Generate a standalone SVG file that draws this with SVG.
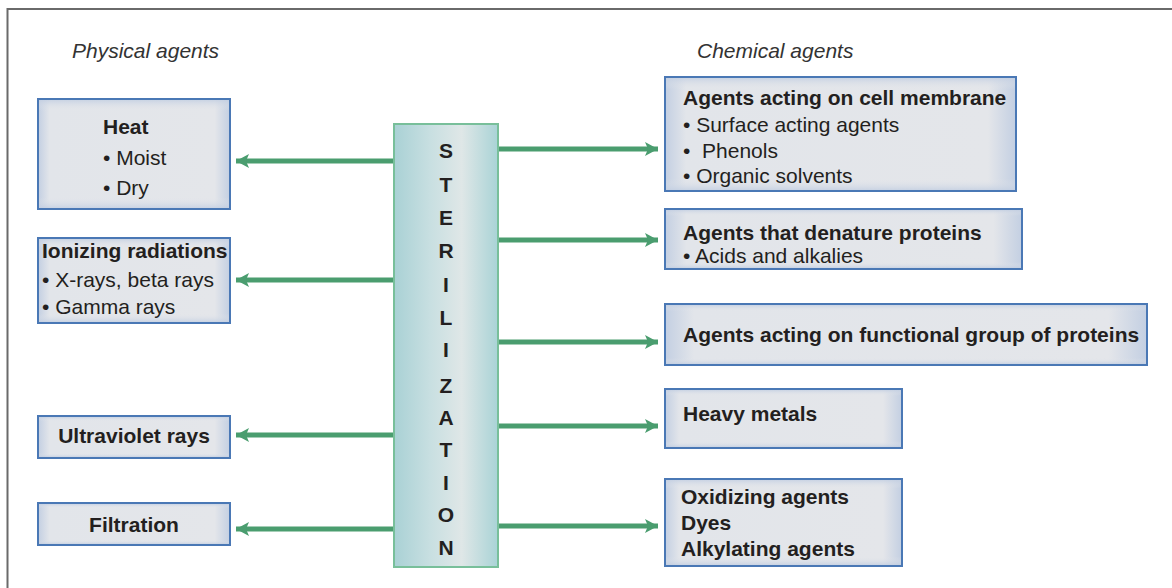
<svg xmlns="http://www.w3.org/2000/svg" width="1172" height="588" viewBox="0 0 1172 588">
<style>
.box{fill:url(#boxg);stroke:#4a78b5;stroke-width:2}
.glow{fill:url(#boxv)}
.b{font-family:"Liberation Sans",Arial,sans-serif;font-weight:bold;font-size:21px;fill:#231f20}
.r{font-family:"Liberation Sans",Arial,sans-serif;font-size:21px;fill:#231f20}
.it{font-family:"Liberation Sans",Arial,sans-serif;font-style:italic;font-size:21px;fill:#333}
.st{font-family:"Liberation Sans",Arial,sans-serif;font-weight:bold;font-size:21px;fill:#231f20;text-anchor:middle}
.c{stroke:#4a9d6f;stroke-width:5;fill:none;marker-end:url(#ah)}
</style>
<defs>
<linearGradient id="boxg" x1="0" y1="0" x2="1" y2="0">
<stop offset="0" stop-color="#c3cfe2"/>
<stop offset="0.06" stop-color="#e2e5ea"/>
<stop offset="0.92" stop-color="#e4e6ea"/>
<stop offset="1" stop-color="#c3cfe2"/>
</linearGradient>
<linearGradient id="boxv" x1="0" y1="0" x2="0" y2="1">
<stop offset="0" stop-color="#c3cfe2" stop-opacity="0.8"/>
<stop offset="0.1" stop-color="#e4e6ea" stop-opacity="0"/>
<stop offset="0.9" stop-color="#e4e6ea" stop-opacity="0"/>
<stop offset="1" stop-color="#c3cfe2" stop-opacity="0.8"/>
</linearGradient>
<linearGradient id="sg" x1="0" y1="0" x2="1" y2="0">
<stop offset="0" stop-color="#a9d1d5"/>
<stop offset="0.35" stop-color="#c8dfe1"/>
<stop offset="0.65" stop-color="#dfe7e7"/>
<stop offset="1" stop-color="#a9d3d6"/>
</linearGradient>
<marker id="ah" markerUnits="userSpaceOnUse" markerWidth="14" markerHeight="16" refX="13" refY="8" orient="auto">
<path d="M0,1 L13,8 L0,15 L3,8 Z" fill="#4a9d6f"/>
</marker>
</defs>
<rect x="0" y="0" width="1172" height="588" fill="#fff"/>
<path d="M7.5,588 V9 H1172" fill="none" stroke="#6a6a6a" stroke-width="2"/>
<text class="it" x="72" y="58">Physical agents</text>
<text class="it" x="697" y="58">Chemical agents</text>

<g id="connectors">
<line class="c" x1="394" y1="161" x2="236" y2="161"/>
<line class="c" x1="394" y1="280" x2="236" y2="280"/>
<line class="c" x1="394" y1="435" x2="236" y2="435"/>
<line class="c" x1="394" y1="529" x2="236" y2="529"/>
<line class="c" x1="498" y1="149" x2="658" y2="149"/>
<line class="c" x1="498" y1="240" x2="658" y2="240"/>
<line class="c" x1="498" y1="342" x2="658" y2="342"/>
<line class="c" x1="498" y1="426" x2="658" y2="426"/>
<line class="c" x1="498" y1="526" x2="658" y2="526"/>
</g>

<g id="sterilization">
<rect x="394" y="124" width="104" height="443" fill="url(#sg)" stroke="#78bf9a" stroke-width="2"/>
<text class="st" x="446" y="158">S</text>
<text class="st" x="446" y="192">T</text>
<text class="st" x="446" y="225">E</text>
<text class="st" x="446" y="258">R</text>
<text class="st" x="446" y="292">I</text>
<text class="st" x="446" y="325">L</text>
<text class="st" x="446" y="357">I</text>
<text class="st" x="446" y="393">Z</text>
<text class="st" x="446" y="425">A</text>
<text class="st" x="446" y="457">T</text>
<text class="st" x="446" y="490">I</text>
<text class="st" x="446" y="522">O</text>
<text class="st" x="446" y="555">N</text>
</g>

<g id="heat">
<rect class="box" x="38" y="99" width="192" height="110"/>
<rect class="glow" x="39" y="100" width="190" height="108"/>
<text class="b" x="103" y="134">Heat</text>
<text class="r" x="103" y="165">• Moist</text>
<text class="r" x="103" y="195">• Dry</text>
</g>

<g id="ionizing">
<rect class="box" x="38" y="238" width="192" height="85"/>
<rect class="glow" x="39" y="239" width="190" height="83"/>
<text class="b" x="42" y="258">Ionizing radiations</text>
<text class="r" x="42" y="287">• X-rays, beta rays</text>
<text class="r" x="42" y="314">• Gamma rays</text>
</g>

<g id="ultraviolet">
<rect class="box" x="38" y="416" width="192" height="42"/>
<rect class="glow" x="39" y="417" width="190" height="40"/>
<text class="b" x="134" y="443" text-anchor="middle">Ultraviolet rays</text>
</g>

<g id="filtration">
<rect class="box" x="38" y="503" width="192" height="42"/>
<rect class="glow" x="39" y="504" width="190" height="40"/>
<text class="b" x="134" y="532" text-anchor="middle">Filtration</text>
</g>

<g id="cell-membrane">
<rect class="box" x="665" y="77" width="351" height="114"/>
<rect class="glow" x="666" y="78" width="349" height="112"/>
<text class="b" x="683" y="105">Agents acting on cell membrane</text>
<text class="r" x="683" y="132">• Surface acting agents</text>
<text class="r" x="683" y="158" xml:space="preserve">•  Phenols</text>
<text class="r" x="683" y="183">• Organic solvents</text>
</g>

<g id="denature">
<rect class="box" x="665" y="209" width="357" height="60"/>
<rect class="glow" x="666" y="210" width="355" height="58"/>
<text class="b" x="683" y="240">Agents that denature proteins</text>
<text class="r" x="683" y="263">• Acids and alkalies</text>
</g>

<g id="functional">
<rect class="box" x="665" y="304" width="482" height="61"/>
<rect class="glow" x="666" y="305" width="480" height="59"/>
<text class="b" x="683" y="342">Agents acting on functional group of proteins</text>
</g>

<g id="heavy-metals">
<rect class="box" x="665" y="389" width="237" height="59"/>
<rect class="glow" x="666" y="390" width="235" height="57"/>
<text class="b" x="683" y="421">Heavy metals</text>
</g>

<g id="oxidizing">
<rect class="box" x="665" y="479" width="237" height="87"/>
<rect class="glow" x="666" y="480" width="235" height="85"/>
<text class="b" x="681" y="504">Oxidizing agents</text>
<text class="b" x="681" y="530">Dyes</text>
<text class="b" x="681" y="556">Alkylating agents</text>
</g>
</svg>
